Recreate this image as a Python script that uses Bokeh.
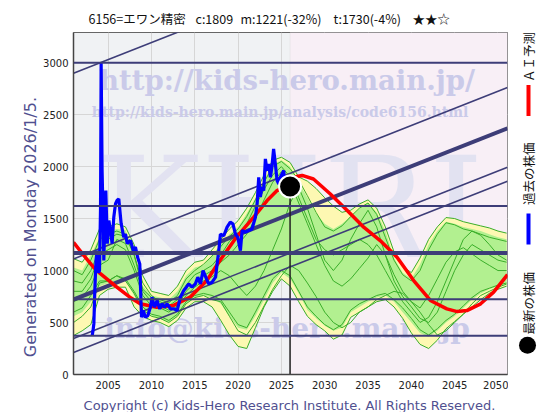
import math
from bokeh.plotting import figure
from bokeh.models import Range1d, BoxAnnotation, Span, FixedTicker
from bokeh.layouts import row, column
from bokeh.embed import file_html
from bokeh.resources import INLINE
from bokeh.core.properties import value

# ---------------- data ----------------
title_parts = ["6156=エワン精密", "c:1809", "m:1221(-32%)", "t:1730(-4%)", "★★☆"]
y_label_text = "Generated on Monday 2026/1/5."
copyright_text = "Copyright (c) Kids-Hero Research Institute. All Rights Reserved."
legend_labels = ["ＡＩ予測", "過去の株価", "最新の株価"]
x_ticks = [2005, 2010, 2015, 2020, 2025, 2030, 2035, 2040, 2045, 2050]
y_ticks = [0, 500, 1000, 1500, 2000, 2500, 3000]

price_years = [2003.16, 2003.25, 2003.35, 2003.46, 2003.6, 2003.73, 2003.85, 2004.0, 2004.12, 2004.19,
               2004.3, 2004.42, 2004.5, 2004.62, 2004.73, 2004.9, 2005.08, 2005.27, 2005.46, 2005.65,
               2005.85, 2006.04, 2006.23, 2006.35, 2006.5, 2006.8, 2007.0, 2007.2, 2007.58, 2007.9,
               2008.15, 2008.4, 2008.65, 2008.85, 2009.05, 2009.3, 2009.58, 2009.88, 2010.07, 2010.34,
               2010.65, 2010.96, 2011.2, 2011.5, 2011.8, 2012.2, 2012.6, 2012.96, 2013.15, 2013.35,
               2013.73, 2014.03, 2014.3, 2014.69, 2015.07, 2015.35, 2015.65, 2015.96, 2016.35, 2016.6,
               2017.0, 2017.4, 2017.58, 2017.77, 2017.96, 2018.35, 2018.73, 2019.1, 2019.4, 2019.7,
               2019.96, 2020.27, 2020.46, 2020.85, 2021.23, 2021.6, 2022.0, 2022.2, 2022.38, 2022.57,
               2022.77, 2022.96, 2023.15, 2023.34, 2023.53, 2023.73, 2023.9, 2024.1, 2024.3, 2024.5,
               2024.7, 2024.9, 2025.27, 2025.5, 2025.7, 2025.85]
price_values = [375, 420, 487, 808, 1100, 1192, 980, 1000, 1600, 3000,
                1962, 1500, 1096, 1500, 1769, 1260, 1481, 1385, 1260, 1513,
                1644, 1676, 1689, 1580, 1452, 1321, 1350, 1260, 1290, 1192,
                1225, 1128, 1064, 551, 615, 551, 567, 647, 744, 647,
                712, 631, 680, 647, 680, 631, 631, 615, 680, 744,
                808, 840, 872, 840, 872, 936, 872, 1000, 920, 872,
                888, 936, 1064, 1192, 1350, 1335, 1417, 1465, 1450, 1350,
                1321, 1192, 1385, 1369, 1385, 1400, 1513, 1644, 1897, 1708,
                1804, 1769, 2074, 1962, 2026, 1897, 1994, 2170, 2026, 1865,
                1833, 1900, 1962, 1737, 1721, 1790]

latest_year = 2026.0
latest_value = 1809

ai_years = [2001.0, 2002.0, 2003.3, 2004.1, 2006.0, 2007.5, 2008.7, 2010.6, 2012.5, 2014.45,
            2016.4, 2017.9, 2019.8, 2021.8, 2023.35, 2024.5, 2025.3, 2026.0, 2026.8, 2027.4,
            2028.7, 2030.65, 2032.6, 2034.5, 2036.4, 2038.35, 2040.27, 2042.2, 2044.1, 2045.3,
            2046.4, 2048.0, 2049.5, 2051.1]
ai_values = [1272, 1165, 1032, 970, 840, 744, 680, 647, 663, 744,
             904, 1096, 1320, 1513, 1673, 1769, 1800, 1850, 1905, 1915,
             1881, 1737, 1577, 1417, 1288, 1128, 904, 712, 631, 605,
             615, 680, 792, 960]

fan_years = [2001, 2002, 2003, 2004, 2005, 2006, 2007, 2008, 2009, 2010,
             2011, 2012, 2013, 2014, 2015, 2016, 2017, 2018, 2019, 2020,
             2021, 2022, 2023, 2024, 2025, 2026, 2027, 2028, 2029, 2030,
             2031, 2032, 2033, 2034, 2035, 2036, 2037, 2038, 2039, 2040,
             2041, 2042, 2043, 2044, 2045, 2046, 2047, 2048, 2049, 2050, 2051]
outer_hi = [1115, 1080, 1200, 1400, 1420, 1450, 1420, 1250, 950, 800,
            780, 760, 850, 1000, 1080, 1100, 1200, 1300, 1400, 1480,
            1600, 1750, 1920, 2060, 2090, 2040, 1900, 1860, 1790, 1700,
            1620, 1560, 1580, 1640, 1680, 1600, 1420, 1180, 1040, 980,
            1120, 1300, 1420, 1510, 1500, 1470, 1450, 1430, 1410, 1380, 1360]
inner_hi = [1030, 1000, 1150, 1320, 1380, 1400, 1390, 1180, 850, 760,
            740, 720, 800, 950, 1030, 1050, 1150, 1250, 1350, 1420,
            1550, 1700, 1870, 2020, 2060, 2000, 1850, 1700, 1550, 1450,
            1400, 1450, 1520, 1600, 1650, 1560, 1380, 1120, 980, 920,
            1060, 1250, 1380, 1470, 1450, 1420, 1400, 1380, 1350, 1320, 1300]
inner_lo = [560, 600, 700, 850, 880, 900, 900, 760, 620, 560,
            540, 500, 560, 680, 740, 760, 740, 680, 560, 450,
            430, 560, 720, 880, 980, 920, 780, 620, 540, 470,
            420, 450, 600, 650, 700, 740, 760, 700, 600, 500,
            400, 360, 420, 500, 560, 640, 720, 780, 820, 850, 880]
outer_lo = [375, 420, 480, 760, 820, 840, 840, 650, 560, 520,
            500, 460, 520, 640, 700, 700, 650, 520, 380, 270,
            250, 450, 650, 800, 920, 850, 700, 560, 480, 420,
            340, 380, 550, 600, 650, 700, 720, 650, 540, 400,
            290, 250, 330, 440, 510, 580, 650, 720, 780, 820, 850]

path_1 = [1000, 960, 1100, 1300, 1350, 1380, 1350, 1150, 820, 740, 720, 690, 760, 920, 1000, 1060, 1140,
          1230, 1330, 1400, 1520, 1680, 1850, 2000, 2050, 1980, 1870, 1720, 1560, 1420, 1380, 1430, 1520,
          1600, 1650, 1540, 1320, 1100, 960, 900, 1000, 1200, 1350, 1460, 1440, 1400, 1380, 1350, 1320,
          1300, 1280]
path_2 = [600, 640, 760, 900, 900, 950, 920, 800, 650, 580, 560, 520, 580, 700, 760, 780, 760,
          720, 600, 480, 450, 600, 760, 920, 1000, 950, 800, 650, 560, 480, 430, 480, 620,
          680, 720, 760, 780, 720, 640, 540, 430, 380, 440, 520, 580, 660, 740, 800, 830,
          860, 880]
path_3 = [800, 800, 920, 1150, 1200, 1250, 1200, 1000, 760, 660, 640, 600, 660, 800, 880, 950, 1000,
          1080, 1150, 1250, 1350, 1500, 1680, 1850, 1950, 1850, 1650, 1450, 1250, 1050, 900, 850, 920,
          1020, 1120, 1250, 1150, 960, 800, 700, 640, 760, 920, 1080, 1180, 1220, 1160, 1100, 1050,
          1000, 1000]
path_4 = [700, 740, 850, 1050, 1100, 1300, 1260, 1050, 800, 700, 660, 620, 640, 760, 840, 900, 940,
          1000, 950, 850, 760, 850, 1000, 1200, 1400, 1650, 1800, 1600, 1350, 1100, 1000, 1100, 1300,
          1450, 1580, 1420, 1150, 900, 750, 650, 540, 500, 600, 800, 1000, 1150, 1250, 1200, 1150,
          1100, 1080]
path_5 = [900, 880, 1000, 1200, 1300, 1350, 1330, 1150, 880, 760, 700, 660, 720, 860, 960, 1000, 1050,
          1150, 1280, 1350, 1450, 1620, 1780, 1920, 2000, 1900, 1700, 1500, 1300, 1200, 1150, 1200, 1250,
          1300, 1250, 1150, 1000, 850, 700, 600, 500, 550, 700, 900, 1100, 1300, 1380, 1340, 1250,
          1150, 1100]
path_6 = [500, 560, 650, 880, 900, 950, 900, 780, 620, 560, 540, 500, 560, 680, 740, 760, 720,
          700, 560, 420, 380, 500, 660, 820, 950, 1050, 1000, 880, 750, 600, 500, 450, 500,
          600, 650, 720, 760, 800, 780, 700, 600, 480, 380, 420, 500, 580, 680, 760, 800,
          840, 870]

hline_values = [3000, 1622, 1170, 724, 372]
trend_x = [2001.0, 2051.1]
trend_start_values = [2897, 1112, 721, 346, 212]
trend_end_values = [4545, 2760, 2369, 1994, 1860]

# ---------------- styles ----------------
NAVY = "#3d3d78"
FONT_UI = "DejaVu Sans"
FONT_JP = "Noto Sans CJK JP"
FONT_WM = "DejaVu Serif"
WM_COLOR = "#cacae9"


def blank(width, height):
    f = figure(width=width, height=height, output_backend="svg", toolbar_location=None,
               title=None, x_range=Range1d(0, width), y_range=Range1d(0, height),
               min_border_left=0, min_border_right=0, min_border_top=0, min_border_bottom=0,
               outline_line_color=None, background_fill_color="white", border_fill_color="white")
    f.axis.visible = False
    f.grid.visible = False
    return f


MID_H = 362
# ---- main chart ----
p = figure(width=468, height=MID_H, output_backend="svg", toolbar_location=None, title=None,
           x_range=Range1d(2001.0, 2051.1), y_range=Range1d(0, 3290),
           min_border_left=33, min_border_right=1, min_border_top=0, min_border_bottom=20,
           background_fill_color="#f0f2f4", border_fill_color="white",
           outline_line_color="#666666")

p.add_layout(BoxAnnotation(left=latest_year, fill_color="#f8eff6", fill_alpha=1.0, level="underlay"))

p.xaxis.ticker = FixedTicker(ticks=x_ticks)
p.yaxis.ticker = FixedTicker(ticks=y_ticks)
p.xgrid.ticker = FixedTicker(ticks=x_ticks)
p.ygrid.ticker = FixedTicker(ticks=y_ticks)
p.grid.grid_line_color = "#d6d6d6"
p.grid.grid_line_width = 1
for ax in (p.xaxis, p.yaxis):
    ax.major_tick_out = 0
    ax.major_tick_in = 0
    ax.minor_tick_out = 0
    ax.minor_tick_in = 0
    ax.axis_line_color = "#444444"
    ax.axis_line_width = 1.5
    ax.major_label_text_font = FONT_UI
    ax.major_label_text_font_size = "10px"
    ax.major_label_text_color = "#222222"
p.xaxis.major_label_standoff = 6
p.yaxis.major_label_standoff = 5

# watermarks
p.text(x=[2026.0], y=[1597], text=["KHRI"], text_font=value(FONT_WM),
       text_font_size="140px", text_color="#e2e2f1", text_align="center", text_baseline="middle")
p.text(x=[2025.65], y=[2837], text=["http://kids-hero.main.jp/"], text_font=value(FONT_WM),
       text_font_style="bold", text_font_size="27.5px", text_color=WM_COLOR,
       text_align="center", text_baseline="middle")
p.text(x=[2024.85], y=[2529], text=["http://kids-hero.main.jp/analysis/code6156.html"],
       text_font=value(FONT_WM), text_font_style="bold", text_font_size="14px",
       text_color=WM_COLOR, text_align="center", text_baseline="middle")
p.text(x=[2025.65], y=[442], text=["info@kids-hero.main.jp"], text_font=value(FONT_WM),
       text_font_style="bold", text_font_size="28px", text_color=WM_COLOR,
       text_align="center", text_baseline="middle")

# fan
p.varea(x=fan_years, y1=outer_lo, y2=outer_hi, fill_color="#fdf8b2")
p.varea(x=fan_years, y1=inner_lo, y2=inner_hi, fill_color="#b2f090")
for s in (outer_hi, outer_lo, path_1, path_2, path_3, path_4, path_5, path_6):
    p.line(fan_years, s, line_color="#3aae2a", line_width=1)

# support / resistance lines
for v in hline_values:
    p.add_layout(Span(location=v, dimension="width", line_color=NAVY,
                      line_width=4 if v == 1170 else 2))
for a, b in zip(trend_start_values, trend_end_values):
    p.line(trend_x, [a, b], line_color=NAVY, line_width=4 if a == 721 else 1.6)

# AI forecast & price
p.line(ai_years, ai_values, line_color="#ff0000", line_width=3.5)
p.line(price_years, price_values, line_color="#0000ff", line_width=3.2)
p.segment(x0=[latest_year], y0=[0], x1=[latest_year], y1=[latest_value],
          line_color="#222222", line_width=1.5)
p.scatter([latest_year], [latest_value], size=22, fill_color="black",
          line_color="white", line_width=2)

# ---- header (title) ----
header = blank(544, 32)
header.text(x=[88, 195, 240, 333, 412], y=[14] * 5, text=title_parts,
            text_font=value(FONT_JP), text_font_size="12.5px", text_color="#111111",
            text_align="left", text_baseline="middle")

# ---- left panel (y label) ----
left = blank(40, MID_H)
left.text(x=[30], y=[156], text=[y_label_text], angle=math.pi / 2,
          text_font=value(FONT_UI), text_font_size="16px", text_color="#505090",
          text_align="center", text_baseline="middle")

# ---- legend panel ----
lg = blank(36, MID_H)
lg.text(x=[20, 20, 20], y=[336, 212.5, 75.5], text=legend_labels, angle=math.pi / 2,
        text_font=value(FONT_JP), text_font_size="12.5px", text_color="#111111",
        text_align="center", text_baseline="middle")
lg.rect(x=[20, 20], y=[290, 154], width=4, height=33, fill_color=["#ff0000", "#0000ff"],
        line_color=None)
lg.scatter([19], [31], size=17, fill_color="black", line_color=None)

# ---- footer ----
footer = blank(544, 18)
footer.text(x=[289], y=[7], text=[copyright_text], text_font=value(FONT_UI),
            text_font_size="13px", text_color="#505090", text_align="center",
            text_baseline="middle")

layout = column(header, row(left, p, lg), footer)
open("out.html", "w").write(file_html(layout, INLINE))
